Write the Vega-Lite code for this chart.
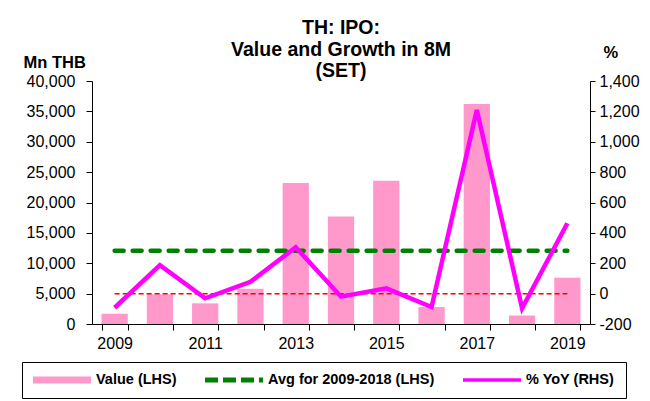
{
  "$schema": "https://vega.github.io/schema/vega-lite/v6.json",
  "width": 498,
  "height": 243,
  "autosize": "none",
  "padding": {"left": 92, "top": 81, "right": 60, "bottom": 77},
  "background": "white",
  "config": {
    "font": "Liberation Sans",
    "view": {"stroke": null},
    "axis": {"grid": false, "domainColor": "#000", "tickColor": "#000", "labelColor": "#000", "labelFont": "Liberation Sans", "labelFontSize": 16, "titleFont": "Liberation Sans", "titleColor": "#000"}
  },
  "title": {
    "text": ["TH: IPO:", "Value and Growth in 8M", "(SET)"],
    "font": "Liberation Sans",
    "fontSize": 19.5,
    "fontWeight": "bold",
    "color": "#000",
    "lineHeight": 21.5,
    "anchor": "middle",
    "frame": "group",
    "offset": -37.5
  },
  "data": {
    "values": [
      {"year": "2009", "value": 1700, "yoy": -93, "avg": 12070, "zero": 0},
      {"year": "2010", "value": 4900, "yoy": 188, "avg": 12070, "zero": 0},
      {"year": "2011", "value": 3400, "yoy": -31, "avg": 12070, "zero": 0},
      {"year": "2012", "value": 5800, "yoy": 78, "avg": 12070, "zero": 0},
      {"year": "2013", "value": 23200, "yoy": 305, "avg": 12070, "zero": 0},
      {"year": "2014", "value": 17700, "yoy": -20, "avg": 12070, "zero": 0},
      {"year": "2015", "value": 23600, "yoy": 35, "avg": 12070, "zero": 0},
      {"year": "2016", "value": 2800, "yoy": -88, "avg": 12070, "zero": 0},
      {"year": "2017", "value": 36200, "yoy": 1209, "avg": 12070, "zero": 0},
      {"year": "2018", "value": 1400, "yoy": -97, "avg": 12070, "zero": 0},
      {"year": "2019", "value": 7600, "yoy": 463, "avg": 12070, "zero": 0}
    ]
  },
  "encoding": {
    "x": {
      "field": "year", "type": "ordinal",
      "scale": {"paddingInner": 0.42, "paddingOuter": 0.21},
      "axis": {"title": null, "labelAngle": 0, "tickBand": "extent", "tickSize": 6, "labelPadding": 5, "labelExpr": "parseInt(datum.value) % 2 == 1 ? datum.label : ''"}
    }
  },
  "layer": [
    {
      "layer": [
        {
          "mark": {"type": "bar"},
          "encoding": {
            "y": {"field": "value", "type": "quantitative", "scale": {"domain": [0, 40000], "nice": false, "zero": false},
              "axis": {"orient": "left", "values": [0,5000,10000,15000,20000,25000,30000,35000,40000], "format": ",.0f", "tickSize": 6, "labelPadding": 11, "title": "Mn THB", "titleAngle": 0, "titleFontSize": 16.5, "titleFontWeight": "bold", "titleAlign": "left", "titleBaseline": "alphabetic", "titleX": -69, "titleY": -14}},
            "color": {"datum": "Value (LHS)", "type": "nominal",
              "scale": {"domain": ["Value (LHS)", "Avg for 2009-2018 (LHS)", "% YoY (RHS)"], "range": ["#FF99CC", "#008000", "#FF00FF"]},
              "legend": {
                "title": null, "orient": "none", "legendX": -70, "legendY": 281, "direction": "horizontal", "columns": 3,
                "symbolType": "square", "symbolSize": 3364, "symbolStrokeWidth": 0, "clipHeight": 14,
                "labelFontSize": 14.5, "labelFontWeight": "bold", "labelFont": "Liberation Sans", "labelColor": "#000", "labelLimit": 400,
                "labelOffset": 5, "columnPadding": 28, "padding": 11, "strokeColor": "#000", "fillColor": "white",
                "encode": {"symbols": {"update": {
                  "shape": {"signal": "datum.value == 'Value (LHS)' ? 'M-1,-0.12H1V0.12H-1Z' : datum.value == '% YoY (RHS)' ? 'M-1,-0.06H1V0.06H-1Z' : 'M-1,-0.086H-0.55V0.086H-1Z M-0.38,-0.086H0.07V0.086H-0.38Z M0.24,-0.086H0.69V0.086H0.24Z M0.86,-0.086H1V0.086H0.86Z'"},
                  "fill": {"signal": "datum.value == 'Value (LHS)' ? '#FF99CC' : datum.value == '% YoY (RHS)' ? '#FF00FF' : '#008000'"},
                  "stroke": {"value": "transparent"},
                  "opacity": {"value": 1}
                }}}
              }
            }
          }
        },
        {
          "mark": {"type": "line", "strokeWidth": 4.5, "strokeDash": [9, 9], "strokeCap": "round"},
          "encoding": {
            "y": {"field": "avg", "type": "quantitative", "scale": {"domain": [0, 40000], "nice": false, "zero": false},
              "axis": {"orient": "left", "values": [0,5000,10000,15000,20000,25000,30000,35000,40000], "format": ",.0f", "tickSize": 6, "labelPadding": 11, "title": "Mn THB", "titleAngle": 0, "titleFontSize": 16.5, "titleFontWeight": "bold", "titleAlign": "left", "titleBaseline": "alphabetic", "titleX": -69, "titleY": -14}},
            "color": {"datum": "Avg for 2009-2018 (LHS)", "type": "nominal"}
          }
        }
      ]
    },
    {
      "layer": [
        {
          "mark": {"type": "line", "color": "#FF0000", "strokeWidth": 1.5, "strokeDash": [5, 3]},
          "encoding": {
            "y": {"field": "zero", "type": "quantitative", "scale": {"domain": [-200, 1400], "nice": false, "zero": false},
              "axis": {"orient": "right", "values": [-200,0,200,400,600,800,1000,1200,1400], "format": ",.0f", "labelExpr": "replace(datum.label, '\u2212', '-')", "tickSize": 5, "labelPadding": 4, "title": "%", "titleAngle": 0, "titleFontSize": 16.5, "titleFontWeight": "bold", "titleAlign": "left", "titleBaseline": "alphabetic", "titleX": 13, "titleY": -24}}
          }
        },
        {
          "mark": {"type": "line", "strokeWidth": 4.5, "strokeJoin": "miter"},
          "encoding": {
            "y": {"field": "yoy", "type": "quantitative", "scale": {"domain": [-200, 1400], "nice": false, "zero": false},
              "axis": {"orient": "right", "values": [-200,0,200,400,600,800,1000,1200,1400], "format": ",.0f", "labelExpr": "replace(datum.label, '\u2212', '-')", "tickSize": 5, "labelPadding": 4, "title": "%", "titleAngle": 0, "titleFontSize": 16.5, "titleFontWeight": "bold", "titleAlign": "left", "titleBaseline": "alphabetic", "titleX": 13, "titleY": -24}},
            "color": {"datum": "% YoY (RHS)", "type": "nominal"}
          }
        }
      ]
    }
  ],
  "resolve": {"scale": {"y": "independent"}}
}
